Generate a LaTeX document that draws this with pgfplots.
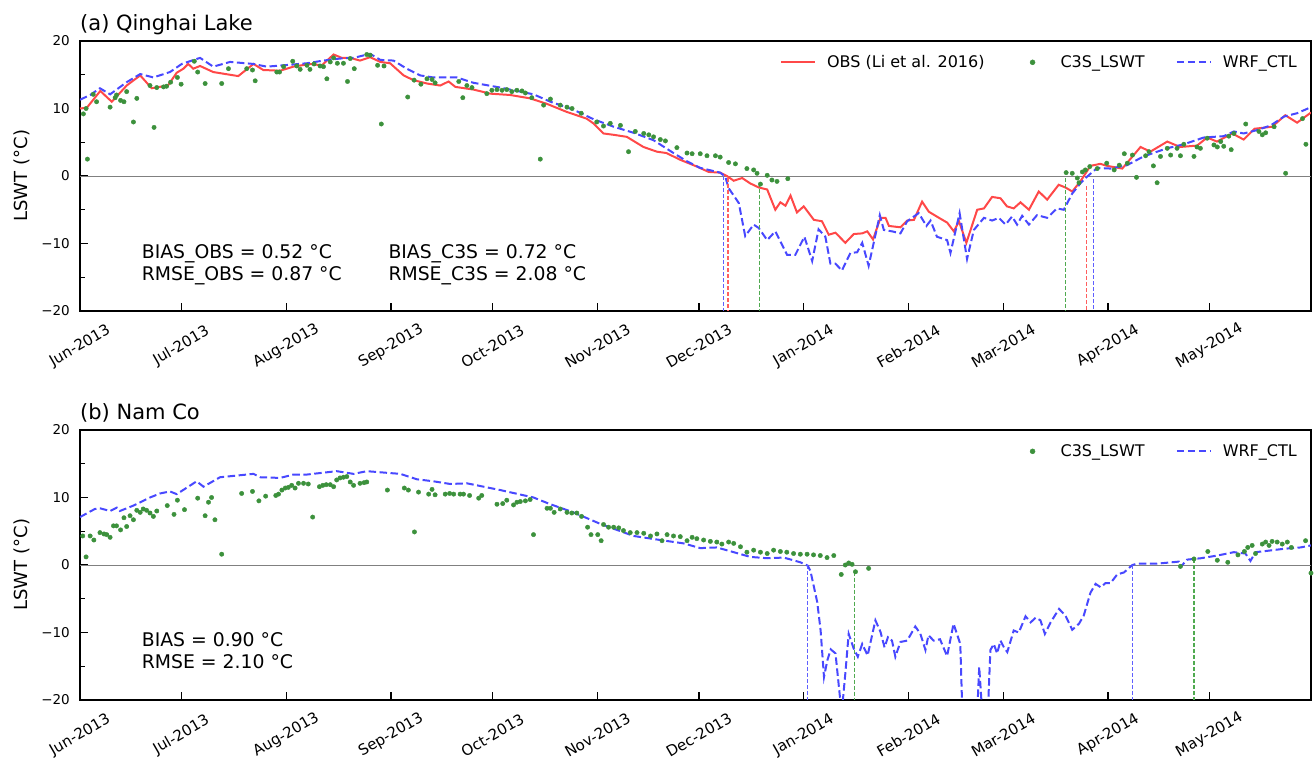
\documentclass[border=0pt]{standalone}
\usepackage{fontspec}
\setmainfont{DejaVu Sans}
\usepackage{pgfplots}
\pgfplotsset{compat=1.18}
\definecolor{obsred}{RGB}{255,72,72}
\definecolor{wrfblue}{RGB}{72,72,255}
\definecolor{c3sgreen}{RGB}{60,145,60}
\definecolor{vred}{RGB}{255,95,95}
\definecolor{vblue}{RGB}{95,95,255}
\definecolor{vgreen}{RGB}{80,170,80}
\pgfplotsset{
  lswt/.style={
    scale only axis, width=1231pt, height=270pt,
    xmin=0, xmax=364, ymin=-20, ymax=20,
    axis line style={line width=1.6pt},
    tick align=inside, xtick pos=bottom, ytick pos=left,
    major tick length=8pt, minor tick length=4.5pt,
    every tick/.style={line width=1.3pt, black},
    minor y tick num=1,
    xtick={0,30,61,92,122,153,183,214,245,273,304,334},
    xticklabels={Jun-2013,Jul-2013,Aug-2013,Sep-2013,Oct-2013,Nov-2013,Dec-2013,Jan-2014,Feb-2014,Mar-2014,Apr-2014,May-2014},
    ytick={-20,-10,0,10,20},
    yticklabels={−20,−10,0,10,20},
    xticklabel style={font=\fontsize{15}{18}\selectfont, yshift=-35pt, rotate=30, anchor=center},
    yticklabel style={font=\fontsize{13.5}{16}\selectfont, anchor=east, inner sep=0pt, xshift=-10pt},
    legend style={draw=none, fill=none, anchor=east, legend columns=-1,
      font=\fontsize{16}{19}\selectfont, inner sep=0pt,
      nodes={inner sep=0pt},
      /tikz/every odd column/.append style={column sep=11pt},
      /tikz/every even column/.append style={column sep=31pt}},
  },
  vline/.style={line width=1.2pt, dash pattern=on 4pt off 2pt, forget plot},
  obsstyle/.style={obsred, line width=2pt,
    legend image code/.code={\draw[obsred, line width=2pt] (0pt,0pt) -- (34pt,0pt);}},
  wrfstyle/.style={wrfblue, line width=2pt, dash pattern=on 7.5pt off 3.5pt,
    legend image code/.code={\draw[wrfblue, line width=2pt, dash pattern=on 7.5pt off 3.5pt] (0pt,0pt) -- (34pt,0pt);}},
  c3sstyle/.style={c3sgreen, only marks, mark=*, mark size=2.2pt,
    legend image code/.code={\path[draw=none, fill=none] (0pt,0pt) rectangle (34pt,0.1pt); \fill[c3sgreen] (17pt,0pt) circle (2.5pt);}},
}
\begin{document}
\begin{tikzpicture}
\useasboundingbox (0,0) rectangle (1315pt,760pt);
% ---------------- panel (a)
\begin{axis}[lswt, at={(80pt,449pt)}, anchor=south west,
  legend style={at={(rel axis cs:0.9886,0.921)}}]
\addplot[gray, line width=0.9pt, forget plot] coordinates {(0,0) (364,0)};
\addplot[obsstyle] coordinates {
(0,10.0)(2,10.1)(6,12.6)(9.4,11.0)(13.8,13.4)(17.8,14.9)(21.2,13.0)(24.7,13.3)(26,13.4)(28.6,15.3)
(30.6,15.9)(32,16.6)(33.5,15.9)(35.5,16.3)(39.4,15.4)(46.8,14.8)(51.3,16.6)(54.2,15.7)(59.2,15.6)(63.1,16.2)
(68,16.6)(71.5,16.4)(75,18.0)(77.4,17.5)(79.9,17.5)(82.8,17.1)(85.8,17.6)(88.8,16.9)(91.7,16.7)(95.7,14.9)
(98.6,14.2)(102.6,13.7)(106.5,13.4)(109,14.0)(111,13.2)(116.4,12.8)(121.3,12.2)(127.2,12.0)(133.1,11.5)(138,10.7)
(143.9,9.5)(149.8,8.5)(151.8,7.8)(154.8,6.3)(157.8,6.1)(161.7,5.8)(166.6,4.3)(170.6,3.6)(173.4,3.4)(177.5,2.4)
(182.4,1.4)(185.9,0.6)(189.3,0.5)(191.3,0)(193.3,-0.7)(195.8,-0.3)(198.2,-1.1)(200.7,-1.7)(203.2,-2.0)(205.6,-5.0)
(207.1,-3.9)(208.6,-4.4)(210.1,-2.9)(212,-5.4)(214,-4.5)(217,-6.5)(219.4,-6.7)(221.4,-8.7)(223.4,-8.4)(226.3,-9.9)
(228.8,-8.6)(231.3,-8.5)(232.8,-8.2)(234.5,-9.4)(236.7,-6.2)(238.2,-6.2)(239.2,-7.4)(242.6,-7.6)(244.6,-6.6)(246.6,-6.5)
(249,-3.8)(251,-5.3)(254,-6.2)(256.4,-6.9)(258.4,-8.2)(259.9,-6.7)(262.1,-9.9)(265.3,-5.0)(267.3,-4.8)(269.7,-3.1)
(272.2,-3.3)(274.1,-4.5)(276.1,-4.8)(278.1,-3.9)(280.6,-5.0)(283.5,-2.3)(286,-3.5)(289.4,-1.3)(291.4,-1.7)(293.4,-2.3)
(295.8,-0.8)(298.8,1.5)(301.7,1.8)(303.7,1.5)(308.2,1.1)(313.6,4.3)(316.5,3.6)(321.5,5.1)(325.3,4.3)(330.3,4.5)
(333.3,5.7)(336.2,5.1)(340.7,6.3)(344.1,5.4)(347.3,7.0)(352.5,7.3)(356.4,9.0)(359.9,7.9)(364,9.4)};
\addlegendentry{OBS (Li et al. 2016)}
\addplot[c3sstyle] coordinates {
(1,9.2)(1.8,10.0)(2.2,2.5)(3.9,12.1)(4.9,11.0)(8.9,10.2)(10.4,11.6)(10.8,12.0)(12,11.2)(13,11.0)
(13.8,12.5)(15.8,8.0)(16.8,11.5)(20.7,13.4)(21.9,7.2)(22.7,13.1)(24.7,13.2)(25.6,13.3)(26.8,13.9)(28.8,14.6)
(29.9,13.6)(33.8,17.0)(34.8,15.4)(37,13.7)(41.9,13.7)(43.9,15.9)(49.3,15.9)(51,15.7)(51.8,14.1)(58.2,15.4)
(59,15.4)(60.2,16.2)(62.9,17.0)(64.1,16.3)(65.1,15.8)(67.1,16.4)(68,15.8)(69.2,16.6)(71,16.3)(72,16.2)
(73,14.4)(74,16.9)(75,17.5)(76.1,16.7)(77.9,16.7)(79.1,14.0)(79.9,17.4)(81.1,15.9)(84.8,18.0)(85.8,17.9)
(88,16.4)(89.1,7.7)(89.9,16.3)(96.9,11.7)(98.8,14.2)(100.8,13.6)(102.6,14.4)(104.1,14.3)(105,13.8)(112,14.0)
(113.2,11.6)(114.4,13.4)(115.9,13.1)(120.3,12.2)(121.8,12.7)(123.3,12.8)(124.8,12.7)(126.2,12.8)(127.7,12.5)(129.2,12.7)
(130.7,12.6)(131.7,12.3)(133.6,11.6)(136.1,2.5)(137.1,10.5)(139.1,11.4)(142,10.5)(144,10.2)(145.5,10.0)(148.2,9.3)
(152.8,8.0)(154.8,7.4)(156.8,7.8)(159.8,7.5)(162.2,3.6)(164.2,6.6)(166.7,6.3)(168.2,6.1)(169.6,5.8)(171.6,5.4)
(173.1,5.2)(176.5,4.2)(179.5,3.4)(181,3.3)(183.4,3.3)(185.4,3.0)(187.9,3.0)(189.3,2.8)(191.8,2.0)(193.8,1.8)
(197.2,1.1)(199.2,0.9)(200.2,0.4)(201.2,-1.2)(203.2,0.1)(204.6,-0.6)(206.1,-0.8)(209.3,-0.4)
(291.6,0.5)(293.4,0.4)(294.9,-0.3)(295.4,-1.0)(296.4,0.6)(297.3,0.9)(298.6,1.4)(300.8,1.1)(303.6,1.9)(305.8,0.9)
(307.3,1.6)(308.8,3.3)(309.7,1.9)(311.2,3.1)(312.4,-0.2)(315.1,3.0)(316.1,3.6)(317.4,1.5)(318.5,-1.0)(319.5,2.9)
(321.5,4.1)(322.5,3.1)(324.4,4.1)(325.4,3.0)(326.4,4.7)(329.4,2.9)(330.3,4.3)(331.3,4.1)(333.3,5.6)(335.3,4.6)
(336.3,4.3)(337.3,5.1)(338.2,4.4)(339.7,5.9)(340.4,3.9)(341.2,6.3)(344.7,7.7)(348.6,6.6)(349.6,6.1)(350.6,6.4)
(353.1,7.3)(356.5,0.4)(361.5,8.5)(362.5,4.7)};
\addlegendentry{C3S\_LSWT}
\addplot[wrfstyle] coordinates {
(0,11.3)(3,12.0)(5.9,13.0)(8.9,12.1)(13.8,13.9)(17.8,15.1)(21.7,14.6)(26.6,15.4)(30.1,16.6)(35.5,17.5)
(39.4,16.2)(44.4,16.9)(51.3,16.6)(55.2,16.2)(60.2,16.4)(67.1,16.7)(72,17.1)(76.9,17.4)(80.9,17.5)(85.8,18.1)
(88.8,17.2)(92.7,17.1)(96.6,15.9)(100.6,14.9)(104.5,14.6)(111.4,14.6)(116.4,13.8)(124.3,13.1)(134.1,12.1)(139.1,11.0)
(146,9.8)(151.9,8.4)(157.8,7.3)(163.7,6.4)(169.6,5.3)(175.5,3.4)(179.4,2.2)(183.4,1.2)(189.3,0.5)(190.8,-0.1)
(191.8,-1.8)(194.8,-4.0)(196.7,-8.9)(199.2,-7.2)(200.7,-7.7)(203.2,-9.5)(205.6,-8.2)(209.1,-11.7)(211.5,-11.7)(214.2,-9.0)
(216.5,-12.6)(218.4,-7.9)(220.4,-9.0)(221.9,-13.0)(223.4,-13.0)(225.3,-14.0)(227.8,-11.4)(229.8,-11.3)(231.3,-9.9)(233.2,-13.3)
(236.5,-5.8)(237.7,-8.0)(240.1,-8.2)(242.6,-8.5)(244.6,-6.7)(248,-5.5)(250.3,-7.4)(251.5,-6.6)(253.4,-9.0)(256.4,-9.5)
(257.4,-11.4)(260.1,-5.5)(262.3,-12.3)(264.3,-8.0)(267.3,-6.2)(269.7,-6.6)(271.7,-6.2)(273.7,-7.2)(275.6,-6.0)(277.1,-7.2)
(278.6,-5.9)(280.6,-7.2)(283,-5.8)(286,-6.2)(288.9,-4.8)(290.9,-5.0)(293.4,-2.6)(295.8,-1.1)(297.8,-0.1)(300.8,1.2)
(304.7,1.1)(309.6,1.6)(314.5,2.9)(321.4,4.1)(326.4,4.7)(332.3,5.7)(338.2,5.9)(341.2,6.6)(344.1,6.3)(348.1,6.8)
(352.1,7.5)(356,8.8)(359.9,9.3)(364,10.2)};
\addlegendentry{WRF\_CTL}
\addplot[vline, vblue] coordinates {(190.3,0) (190.3,-20)};
\addplot[vline, vred] coordinates {(191.6,-0.3) (191.6,-20)};
\addplot[vline, vgreen] coordinates {(200.9,-1.0) (200.9,-20)};
\addplot[vline, vgreen] coordinates {(291.4,-0.3) (291.4,-20)};
\addplot[vline, vred] coordinates {(297.6,-1.5) (297.6,-20)};
\addplot[vline, vblue] coordinates {(299.6,-0.5) (299.6,-20)};
\end{axis}
% ---------------- panel (b)
\begin{axis}[lswt, at={(80pt,60pt)}, anchor=south west,
  legend style={at={(rel axis cs:0.9886,0.921)}}]
\addplot[gray, line width=0.9pt, forget plot] coordinates {(0,0) (364,0)};
\addplot[c3sstyle] coordinates {
(0.8,4.3)(1.8,1.2)(3,4.3)(4.1,3.7)(5.9,4.8)(7.1,4.6)(7.9,4.5)(8.9,4.1)(9.9,5.8)(10.8,5.8)
(12,5.2)(13,7.0)(13.8,5.7)(14.8,7.3)(15.8,6.7)(16.8,8.1)(17.8,7.8)(18.7,8.3)(19.7,8.1)(20.7,7.7)
(21.7,7.2)(22.7,8.0)(25.8,8.8)(27.8,7.5)(28.8,9.6)(30.9,8.2)(34.8,9.9)(37,7.3)(38,9.3)(38.9,10.0)
(39.9,6.7)(41.9,1.6)(47.8,10.6)(51,10.9)(52.9,9.5)(54.9,10.2)(57.9,10.3)(58.7,10.5)(59.7,11.1)(60.7,11.4)
(61.6,11.5)(62.6,11.8)(63.6,11.4)(64.6,12.1)(66.1,12.1)(67.5,12.0)(68.8,7.1)(70.8,11.6)(71.8,11.8)(72.8,11.9)
(74,11.9)(75,11.6)(75.9,12.6)(76.9,12.9)(77.9,13.0)(78.9,13.1)(79.9,12.3)(80.9,11.8)(82.8,12.1)(84,12.2)
(84.8,12.3)(90.9,11.1)(95.9,11.4)(97.1,11.1)(98.9,4.9)(100.1,10.8)(103.1,10.5)(104.1,11.2)(105,10.4)(108,10.5)
(109.3,10.6)(110.5,10.5)(112.4,10.5)(113.4,10.5)(115.2,10.3)(117.9,9.9)(118.8,10.3)(123.3,9.0)(125,9.1)(126.2,9.6)
(128.2,8.9)(129.2,9.3)(130.2,9.4)(131.7,9.5)(133.1,9.7)(134.1,4.5)(138.1,8.4)(139.1,8.4)(140.2,7.8)(142,8.3)
(144,7.8)(145.4,7.7)(146.9,7.7)(148.3,7.2)(150.1,5.6)(151.1,4.5)(153.1,4.5)(154.1,3.6)(154.8,6.0)(156.3,5.6)
(157.8,5.6)(159.3,5.5)(160.7,5.1)(162.7,4.8)(164.7,4.8)(166.7,4.7)(168.7,4.3)(170.6,4.6)(172.1,3.6)(173.6,4.5)
(175.5,4.3)(177.5,4.2)(179.5,3.6)(181,4.1)(182.4,3.9)(184.4,3.7)(186.4,3.5)(188.3,3.4)(189.8,3.1)(191.8,3.4)
(193.3,3.2)(195.3,2.7)(197.2,1.9)(199.2,2.2)(201.2,1.9)(203.2,1.7)(205.1,2.2)(207.1,2.0)(209,1.9)(211,1.7)
(213,1.6)(215,1.6)(216.9,1.5)(218.9,1.4)(220.9,1.1)(222.9,1.4)(225.1,-1.4)(226.3,0.0)(227.3,0.3)(228.3,0.1)
(229.3,-1.0)(233.2,-0.5)(325.4,-0.2)(329.4,0.9)(333.5,2.0)(336.3,0.7)(339.4,0.4)(342.4,1.5)(344.3,2.0)(345.3,2.6)
(346.6,2.9)(347.6,1.7)(349.6,3.1)(350.6,3.4)(351.6,2.9)(352.5,3.5)(354,3.4)(355.5,3.1)(357,3.4)(358.2,2.6)
(362.4,3.6)(364,-1.2)};
\addlegendentry{C3S\_LSWT}
\addplot[wrfstyle] coordinates {
(0,7.1)(4.4,8.3)(5.9,8.4)(8.9,8.0)(10.9,8.5)(11.8,8.0)(15.8,8.8)(20.7,10.0)(23.7,10.6)(26.6,10.9)
(28.6,10.5)(31.1,11.3)(34.5,12.4)(36.5,11.6)(41.4,13.0)(45.4,13.2)(51.3,13.5)(53.3,13.0)(59.2,12.9)(63.1,13.4)
(67.1,13.4)(75.9,13.9)(80.9,13.5)(84.8,13.9)(89.7,13.7)(94.7,13.5)(99.6,12.7)(104.5,12.4)(109.5,12.0)(114.4,12.1)
(124.3,11.1)(134.1,10.0)(139.1,9.0)(145.9,7.8)(153.8,6.1)(163.7,4.3)(171.6,3.7)(178.5,3.2)(183.4,2.5)(188.3,2.6)
(193.3,1.9)(198.2,1.2)(203.2,1.0)(208.1,1.1)(213,0.4)(215.2,-0.1)(216,-0.9)(218,-5.5)(219,-9.7)(220,-16.6)
(221,-14.1)(222,-12.5)(223.4,-13.1)(224.7,-19.5)(225.4,-21)(226.3,-16.1)(227.3,-10.2)(228.8,-12.4)(230,-13.6)(231.3,-11.7)
(232.9,-13.4)(235.2,-8.2)(236.7,-9.9)(237.9,-12.2)(238.9,-10.7)(240.1,-11.2)(241.1,-13.6)(242.6,-11.4)(244.6,-11.2)(247,-9.1)
(248.5,-10.2)(250,-12.6)(250.9,-10.4)(252.4,-11.2)(254.3,-11.0)(256.4,-13.5)(258.3,-8.7)(260.3,-11.7)(260.8,-20)(261.5,-23)
(265.2,-23)(265.9,-15.1)(266.6,-20.5)(267.5,-23)(268.3,-23)(268.6,-20)(269.2,-12.6)(270.2,-11.7)(271.2,-13.1)(272.2,-11.2)
(273.2,-12.2)(274.2,-12.9)(276.1,-9.7)(277.6,-10.0)(279.6,-7.6)(281.1,-8.5)(282.6,-7.8)(284,-8.2)(285.3,-10.2)(287,-8.5)
(289.5,-6.5)(291.4,-7.5)(293.4,-9.6)(295.4,-8.7)(296.8,-7.5)(298.8,-4.1)(300.3,-2.8)(301.8,-3.3)(303.2,-2.7)(304.7,-2.7)
(306.7,-1.4)(308.7,-1.1)(311.2,0)(312.6,0.2)(318.5,0.2)(324.9,0.5)(325.4,-0.3)(327.4,0.8)(331.4,1.0)(336.3,1.4)
(341.2,1.9)(344.6,1.7)(346.1,0.6)(347.6,1.9)(351.1,2.1)(356,2.4)(360.9,2.6)(364,2.9)};
\addlegendentry{WRF\_CTL}
\addplot[vline, vblue] coordinates {(215.2,0) (215.2,-20)};
\addplot[vline, vgreen] coordinates {(229,-1.0) (229,-20)};
\addplot[vline, vblue] coordinates {(311.2,0) (311.2,-20)};
\addplot[vline, vgreen] coordinates {(329.4,0.9) (329.4,-20)};
\end{axis}
% ---------------- texts
\node[anchor=base west, inner sep=0pt, font=\fontsize{21}{25}\selectfont] at (80pt,729.5pt) {(a) Qinghai Lake};
\node[anchor=base west, inner sep=0pt, font=\fontsize{21}{25}\selectfont] at (80pt,340.7pt) {(b) Nam Co};
\node[rotate=90, inner sep=0pt, font=\fontsize{18}{22}\selectfont] at (21.7pt,584.3pt) {LSWT (°C)};
\node[rotate=90, inner sep=0pt, font=\fontsize{18}{22}\selectfont] at (21.7pt,195.3pt) {LSWT (°C)};
\node[anchor=base west, inner sep=0pt, font=\fontsize{18.8}{22}\selectfont] at (141.7pt,501.7pt) {BIAS\_OBS = 0.52 °C};
\node[anchor=base west, inner sep=0pt, font=\fontsize{18.8}{22}\selectfont] at (141.7pt,479pt) {RMSE\_OBS = 0.87 °C};
\node[anchor=base west, inner sep=0pt, font=\fontsize{18.8}{22}\selectfont] at (388.3pt,501.7pt) {BIAS\_C3S = 0.72 °C};
\node[anchor=base west, inner sep=0pt, font=\fontsize{18.8}{22}\selectfont] at (388.3pt,479pt) {RMSE\_C3S = 2.08 °C};
\node[anchor=base west, inner sep=0pt, font=\fontsize{18.8}{22}\selectfont] at (141.7pt,113.3pt) {BIAS = 0.90 °C};
\node[anchor=base west, inner sep=0pt, font=\fontsize{18.8}{22}\selectfont] at (141.7pt,91.7pt) {RMSE = 2.10 °C};
\end{tikzpicture}
\end{document}
